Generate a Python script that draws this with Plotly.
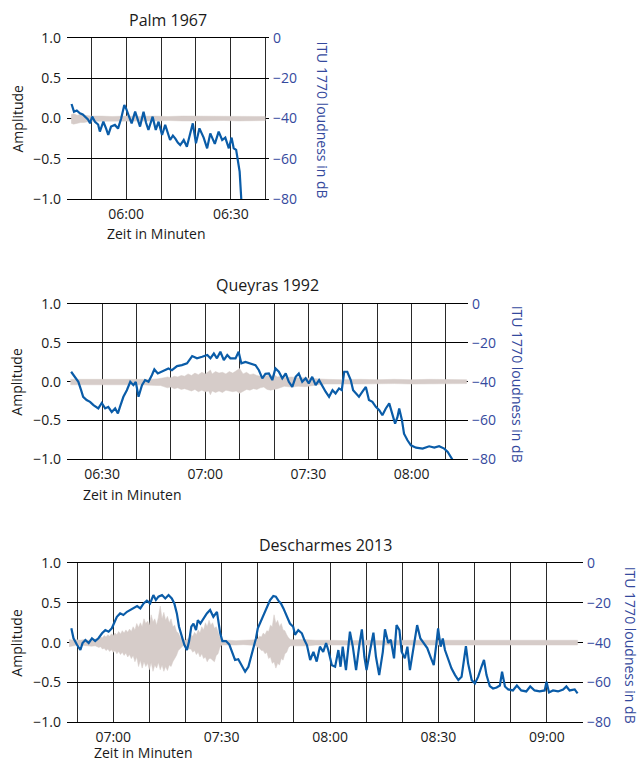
import plotly.graph_objects as go

# ---------------- data ----------------
# time values in minutes after midnight; loudness in dB (ITU 1770); waveform envelope in amplitude

# Panel 1: Palm 1967
p1_title = "Palm 1967"
p1_t = [344.4, 344.8, 345.1, 345.9, 346.8, 347.6, 348.2, 349.1, 349.7, 350.3, 351.1, 352.0, 352.5, 353.5,
        354.3, 354.9, 355.7, 356.8, 357.7, 358.6, 359.5, 360.0, 360.7, 361.6, 362.6, 363.3, 364.0, 365.0,
        365.7, 366.4, 367.6, 368.5, 369.3, 370.3, 371.2, 372.6, 373.4, 374.1, 374.8, 375.5, 376.5, 377.4,
        378.4, 379.1, 380.0, 381.0, 382.2, 383.2, 384.1, 385.4, 386.5, 387.5, 388.4, 389.4, 390.2, 390.8,
        391.5, 392.1, 392.5, 393.0]
p1_db = [-32.8, -35.0, -36.6, -36.0, -37.4, -38.0, -39.1, -40.5, -42.4, -39.0, -41.6, -43.0, -46.5, -41.6,
         -45.0, -48.2, -44.0, -43.2, -45.0, -40.0, -33.3, -35.0, -38.3, -42.4, -36.6, -41.0, -44.0, -36.6,
         -42.0, -45.7, -39.1, -45.7, -41.6, -48.2, -43.2, -50.7, -48.5, -50.0, -52.0, -53.2, -50.7, -54.0,
         -47.4, -42.4, -52.3, -44.9, -49.5, -54.8, -47.4, -52.6, -46.5, -50.7, -49.5, -54.8, -49.5, -54.8,
         -55.6, -61.5, -66.4, -81.0]
p1_wt = [344.3, 345, 346, 347, 348, 349, 350, 353, 356, 360, 364, 368, 372, 376, 380, 384, 388, 392, 396, 399.8]
p1_hi = [0.05, 0.06, 0.04, 0.05, 0.04, 0.035, 0.03, 0.03, 0.025, 0.03, 0.025, 0.03, 0.025, 0.03, 0.03,
         0.025, 0.03, 0.025, 0.03, 0.025]
p1_lo = [0.06, 0.07, 0.06, 0.05, 0.05, 0.04, 0.035, 0.03, 0.03, 0.03, 0.03, 0.03, 0.025, 0.03, 0.03,
         0.03, 0.025, 0.03, 0.03, 0.025]
p1_ticks = [350, 360, 370, 380, 390, 400]
p1_ticktext = ["", "06:00", "", "", "06:30", ""]

# Panel 2: Queyras 1992
p2_title = "Queyras 1992"
p2_t = [381.0, 382.1, 383.1, 383.9, 384.5, 385.5, 386.5, 387.5, 388.9, 389.9, 390.9, 391.8, 392.8, 393.8,
        394.6, 395.2, 396.2, 397.2, 398.2, 399.1, 399.8, 400.6, 401.6, 402.5, 403.5, 404.5, 405.2, 406.2,
        407.4, 408.4, 409.3, 410.3, 411.8, 413.2, 414.7, 416.2, 417.6, 419.1, 420.6, 421.5, 422.5, 423.4,
        424.4, 425.4, 426.4, 427.3, 428.8, 429.7, 430.5, 431.7, 433.1, 434.6, 435.6, 436.6, 437.5, 438.5,
        439.5, 440.4, 441.4, 442.4, 443.4, 444.3, 445.3, 446.3, 447.2, 448.2, 449.2, 450.1, 451.1, 452.1,
        453.1, 454.1, 455.0, 456.0, 457.0, 457.9, 458.9, 459.7, 460.4, 461.3, 462.3, 463.0, 463.8, 464.7,
        465.7, 466.7, 467.6, 468.6, 469.6, 470.6, 471.5, 472.5, 473.5, 474.3, 475.2, 475.9, 476.4, 477.2,
        477.8, 478.8, 479.8, 481.3, 483.2, 485.1, 486.6, 488.0, 489.5, 490.5, 491.5, 492.0]
p2_db = [-34.9, -37.5, -40.1, -44.4, -47.8, -49.5, -50.4, -52.1, -53.8, -51.0, -53.8, -53.0, -55.6, -53.8,
         -56.4, -53.0, -47.8, -44.4, -40.1, -41.8, -40.1, -47.8, -41.8, -39.2, -40.1, -36.6, -33.7, -35.8,
         -34.9, -34.1, -33.2, -34.1, -32.0, -31.5, -30.6, -26.8, -28.0, -27.2, -26.3, -28.0, -25.5, -28.0,
         -24.6, -28.9, -26.3, -28.0, -28.0, -24.6, -30.6, -29.8, -30.6, -31.5, -34.1, -38.3, -36.0, -35.8,
         -39.2, -33.2, -34.9, -38.3, -35.8, -40.1, -42.7, -37.5, -35.8, -40.1, -38.3, -40.9, -37.5, -41.8,
         -39.2, -42.7, -45.2, -47.8, -44.4, -46.1, -43.5, -44.4, -34.9, -34.9, -39.2, -44.4, -46.1, -47.8,
         -45.2, -42.7, -49.5, -50.4, -53.0, -54.7, -57.3, -53.8, -51.2, -55.6, -61.6, -58.2, -53.8, -59.9,
         -66.8, -70.2, -72.8, -74.0, -74.5, -73.3, -74.0, -73.3, -74.5, -76.2, -78.8, -80.5]
p2_wt = [380.8, 383, 386, 389, 392, 395, 398, 401, 404, 406, 407, 408, 409, 410, 411, 412, 413, 414, 415,
         416, 417, 418, 419, 420, 421, 421.5, 422, 423, 424, 425, 426, 427, 428, 429, 430, 431, 432, 433,
         434, 435, 436, 437, 438, 439, 440, 441, 442, 443, 445, 447, 449, 451, 453, 455, 460, 465, 470,
         475, 480, 485, 490, 496]
p2_hi = [0.03, 0.03, 0.025, 0.03, 0.03, 0.025, 0.03, 0.03, 0.03, 0.035, 0.04, 0.05, 0.06, 0.05, 0.07, 0.06,
         0.08, 0.07, 0.1, 0.08, 0.11, 0.09, 0.12, 0.1, 0.13, 0.15, 0.1, 0.13, 0.11, 0.12, 0.1, 0.13, 0.11,
         0.14, 0.17, 0.1, 0.12, 0.09, 0.1, 0.08, 0.07, 0.06, 0.08, 0.07, 0.09, 0.06, 0.07, 0.05, 0.06, 0.05,
         0.05, 0.04, 0.035, 0.03, 0.025, 0.03, 0.025, 0.03, 0.025, 0.03, 0.025, 0.025]
p2_lo = [0.04, 0.045, 0.04, 0.04, 0.045, 0.04, 0.04, 0.04, 0.045, 0.05, 0.05, 0.06, 0.08, 0.07, 0.09, 0.08,
         0.1, 0.09, 0.1, 0.12, 0.1, 0.13, 0.11, 0.13, 0.12, 0.17, 0.12, 0.14, 0.12, 0.14, 0.11, 0.12, 0.13,
         0.12, 0.15, 0.12, 0.1, 0.11, 0.09, 0.1, 0.08, 0.07, 0.1, 0.11, 0.1, 0.09, 0.08, 0.06, 0.07, 0.06,
         0.065, 0.05, 0.04, 0.03, 0.03, 0.03, 0.03, 0.025, 0.03, 0.03, 0.03, 0.025]
p2_ticks = [390, 400, 410, 420, 430, 440, 450, 460, 470, 480, 490]
p2_ticktext = ["06:30", "", "", "07:00", "", "", "07:30", "", "", "08:00", ""]

# Panel 3: Descharmes 2013
p3_title = "Descharmes 2013"
p3_t = [408.4, 409.0, 410.0, 410.9, 411.5, 412.3, 413.2, 414.1, 415.0, 415.9, 416.9, 417.8, 418.7, 419.6,
        420.4, 421.0, 421.9, 422.8, 423.8, 424.7, 425.6, 426.6, 427.5, 428.4, 429.3, 430.2, 431.1, 431.8,
        432.5, 433.5, 434.4, 435.3, 436.2, 436.9, 437.6, 438.2, 439.0, 439.7, 440.4, 441.0, 441.6, 442.2,
        442.9, 443.4, 444.1, 445.0, 445.9, 446.8, 447.7, 448.7, 449.1, 449.6, 450.2, 451.2, 452.1, 452.8,
        453.7, 454.6, 455.6, 456.5, 457.4, 458.2, 458.8, 459.5, 460.0, 460.6, 461.6, 462.5, 463.4, 464.3,
        465.0, 465.7, 466.4, 467.1, 468.0, 468.9, 469.8, 470.3, 471.2, 472.2, 472.9, 473.6, 474.5, 475.4,
        476.3, 477.2, 478.1, 478.9, 479.5, 480.5, 481.4, 482.3, 482.9, 483.5, 484.4, 485.5, 486.3, 487.2,
        488.1, 488.8, 489.5, 490.1, 491.1, 492.0, 492.7, 493.6, 494.6, 495.2, 496.1, 496.8, 497.7, 498.4,
        499.2, 499.8, 500.7, 501.4, 502.1, 503.0, 504.1, 505.0, 506.0, 506.9, 507.8, 508.7, 509.5, 509.9,
        510.6, 511.2, 511.8, 512.7, 513.6, 514.6, 515.5, 516.4, 517.0, 517.6, 518.2, 519.2, 520.1, 521.0,
        521.9, 522.6, 523.3, 524.2, 525.1, 526.1, 527.0, 527.6, 528.4, 529.3, 530.6, 531.7, 532.9, 534.3,
        535.4, 536.6, 538.0, 539.4, 539.9, 540.6, 541.7, 543.1, 544.5, 545.4, 546.3, 547.7, 548.5]
p3_db = [-32.8, -37.8, -41.2, -43.7, -40.2, -38.7, -40.2, -37.8, -39.2, -37.8, -35.3, -33.7, -34.5, -32.8,
         -29.5, -27.0, -25.3, -26.1, -24.5, -23.6, -22.8, -21.6, -22.8, -20.3, -18.9, -20.3, -16.1, -18.6,
         -16.9, -16.1, -17.8, -16.1, -17.8, -20.3, -25.3, -32.0, -37.0, -41.2, -43.7, -39.2, -32.0, -30.4,
         -33.7, -28.7, -30.4, -27.8, -25.3, -23.6, -27.0, -24.5, -29.5, -35.3, -39.2, -39.2, -40.9, -44.6,
         -48.7, -48.3, -51.3, -54.6, -52.1, -47.1, -42.1, -37.8, -32.8, -30.4, -26.1, -22.0, -18.6, -16.6,
         -16.9, -18.9, -20.3, -22.8, -27.0, -30.4, -32.0, -36.1, -33.7, -35.3, -38.7, -41.2, -48.7, -44.6,
         -49.5, -42.0, -44.6, -40.2, -43.7, -51.3, -52.1, -43.7, -52.1, -42.0, -53.8, -34.5, -42.0, -53.8,
         -41.2, -33.3, -47.1, -53.8, -43.7, -35.0, -47.1, -56.3, -44.6, -33.3, -40.2, -38.5, -47.9, -31.2,
         -33.7, -44.6, -47.9, -42.0, -53.8, -43.7, -31.2, -37.9, -40.2, -42.7, -47.1, -51.3, -39.5, -32.8,
         -42.0, -37.9, -43.7, -48.7, -52.9, -56.3, -58.8, -57.1, -50.4, -41.7, -50.4, -58.8, -60.5, -57.1,
         -52.1, -48.7, -56.3, -61.8, -63.0, -62.5, -61.5, -54.6, -62.0, -63.5, -64.0, -61.5, -64.0, -64.5,
         -62.0, -64.0, -64.5, -64.0, -59.6, -65.0, -64.0, -64.5, -63.5, -62.0, -64.0, -63.5, -65.5]
p3_wt = [407.8, 409, 410, 411, 412, 413, 414, 415, 416, 416.5, 417, 417.5, 418, 418.5, 419, 419.5, 420,
         420.5, 421, 421.5, 422, 422.5, 423, 423.5, 424, 424.5, 425, 425.5, 426, 426.5, 427, 427.5, 428,
         428.5, 429, 429.5, 430, 430.5, 431, 431.5, 432, 432.5, 433, 433.5, 434, 434.5, 435, 435.5, 436,
         436.5, 437, 437.5, 438, 438.5, 439, 439.5, 440, 440.5, 441, 441.5, 442, 442.5, 443, 443.5, 444,
         444.5, 445, 445.5, 446, 446.5, 447, 447.5, 448, 448.5, 449, 449.5, 450, 452, 454, 456, 458, 459.5,
         460, 460.5, 461, 461.5, 462, 462.5, 463, 463.5, 464, 464.5, 465, 465.5, 466, 466.5, 467, 467.5,
         468, 468.5, 469, 470, 472, 474, 476, 480, 485, 490, 495, 500, 505, 510, 515, 520, 525, 530, 535,
         540, 545, 548.5]
p3_hi = [0.04, 0.03, 0.035, 0.03, 0.04, 0.03, 0.04, 0.045, 0.05, 0.07, 0.06, 0.09, 0.07, 0.1, 0.08, 0.11,
         0.09, 0.12, 0.1, 0.14, 0.11, 0.15, 0.12, 0.16, 0.13, 0.17, 0.14, 0.2, 0.16, 0.24, 0.19, 0.25, 0.2,
         0.3, 0.24, 0.27, 0.22, 0.35, 0.26, 0.3, 0.22, 0.32, 0.46, 0.3, 0.38, 0.28, 0.33, 0.25, 0.3, 0.2,
         0.22, 0.14, 0.12, 0.07, 0.05, 0.04, 0.03, 0.04, 0.06, 0.1, 0.08, 0.13, 0.1, 0.16, 0.12, 0.2, 0.16,
         0.25, 0.2, 0.28, 0.22, 0.25, 0.18, 0.2, 0.12, 0.07, 0.035, 0.03, 0.025, 0.03, 0.03, 0.035, 0.05,
         0.08, 0.07, 0.12, 0.1, 0.15, 0.14, 0.22, 0.2, 0.35, 0.24, 0.28, 0.2, 0.24, 0.16, 0.15, 0.1, 0.06,
         0.04, 0.035, 0.04, 0.035, 0.03, 0.03, 0.025, 0.03, 0.025, 0.03, 0.03, 0.025, 0.03, 0.025, 0.03,
         0.025, 0.03, 0.025, 0.03, 0.03]
p3_lo = [0.05, 0.04, 0.03, 0.04, 0.035, 0.04, 0.045, 0.04, 0.06, 0.05, 0.08, 0.07, 0.1, 0.08, 0.11, 0.09,
         0.12, 0.1, 0.14, 0.11, 0.15, 0.12, 0.16, 0.13, 0.18, 0.15, 0.2, 0.16, 0.24, 0.18, 0.3, 0.22, 0.32,
         0.24, 0.3, 0.26, 0.34, 0.25, 0.36, 0.28, 0.32, 0.25, 0.34, 0.28, 0.36, 0.3, 0.35, 0.28, 0.3, 0.24,
         0.2, 0.16, 0.1, 0.08, 0.05, 0.03, 0.03, 0.05, 0.08, 0.08, 0.12, 0.1, 0.15, 0.12, 0.18, 0.14, 0.2,
         0.18, 0.24, 0.2, 0.2, 0.22, 0.24, 0.16, 0.14, 0.06, 0.03, 0.03, 0.03, 0.025, 0.03, 0.035, 0.06,
         0.07, 0.1, 0.1, 0.14, 0.12, 0.2, 0.18, 0.26, 0.24, 0.32, 0.26, 0.28, 0.2, 0.22, 0.14, 0.12, 0.06,
         0.04, 0.035, 0.04, 0.04, 0.03, 0.03, 0.03, 0.025, 0.03, 0.03, 0.025, 0.03, 0.03, 0.025, 0.03,
         0.03, 0.025, 0.03, 0.03, 0.03]
p3_ticks = [410, 420, 430, 440, 450, 460, 470, 480, 490, 500, 510, 520, 530, 540]
p3_ticktext = ["", "07:00", "", "", "07:30", "", "", "08:00", "", "", "08:30", "", "", "09:00"]

amp_ticks = [-1.0, -0.5, 0.0, 0.5, 1.0]
amp_ticktext = ["\u22121.0", "\u22120.5", "0.0", "0.5", "1.0"]
db_ticks = [-80, -60, -40, -20, 0]
db_ticktext = ["\u221280", "\u221260", "\u221240", "\u221220", "0"]

x_title = "Zeit in Minuten"
y_title = "Amplitude"
y2_title = "ITU 1770 loudness in dB"

# ---------------- layout (pixel boxes, page coordinates) ----------------
W, H = 639, 761
FONT = "Open Sans"
BLUE_LINE = "#0a5ca8"
BLUE_TEXT = "#34499d"
GRAY_WAVE = "#d6ccc9"
TEXT = "#1a1a1a"


def fx(px):
    return px / W


def fy(py):
    return 1 - py / H


panels = [
    dict(title=p1_title, t=p1_t, db=p1_db, wt=p1_wt, hi=p1_hi, lo=p1_lo, ticks=p1_ticks,
         ticktext=p1_ticktext, xr=[343.1, 400.9], px=(67, 269), py=(38, 199), ty=20, xty=233, rtx=322),
    dict(title=p2_title, t=p2_t, db=p2_db, wt=p2_wt, hi=p2_hi, lo=p2_lo, ticks=p2_ticks,
         ticktext=p2_ticktext, xr=[379.8, 496.4], px=(67, 468), py=(304, 459.3), ty=285, xty=494, rtx=517),
    dict(title=p3_title, t=p3_t, db=p3_db, wt=p3_wt, hi=p3_hi, lo=p3_lo, ticks=p3_ticks,
         ticktext=p3_ticktext, xr=[407.2, 550.0], px=(67, 583), py=(563, 722.3), ty=545, xty=752, rtx=630),
]

fig = go.Figure()
annotations = []
layout_axes = {}

for i, p in enumerate(panels):
    xn = "x" if i == 0 else f"x{i+1}"
    ya = 2 * i + 1
    yb = 2 * i + 2
    yan = "y" if ya == 1 else f"y{ya}"
    ybn = f"y{yb}"

    wx = list(p["wt"]) + list(p["wt"])[::-1]
    wy = list(p["hi"]) + [-v for v in p["lo"]][::-1]
    fig.add_trace(go.Scatter(x=wx, y=wy, mode="lines", fill="toself", fillcolor=GRAY_WAVE,
                             line=dict(color=GRAY_WAVE, width=0.5), xaxis=xn, yaxis=yan,
                             hoverinfo="skip", showlegend=False))
    fig.add_trace(go.Scatter(x=p["t"], y=p["db"], mode="lines",
                             line=dict(color=BLUE_LINE, width=2.2), xaxis=xn, yaxis=ybn,
                             showlegend=False))

    x0, x1 = fx(p["px"][0]), fx(p["px"][1])
    y0, y1 = fy(p["py"][1]), fy(p["py"][0])

    layout_axes["xaxis" if i == 0 else f"xaxis{i+1}"] = dict(
        domain=[x0, x1], range=p["xr"], anchor=yan, tickmode="array", tickvals=p["ticks"],
        ticktext=p["ticktext"], showgrid=True, gridcolor="#2a2a2a", gridwidth=1, zeroline=False,
        showline=True, mirror=True, linecolor="#000000", linewidth=1, ticks="",
        ticklabelstandoff=2,
        tickfont=dict(family=FONT, size=14, color=TEXT), automargin=False, fixedrange=True)
    layout_axes["yaxis" if ya == 1 else f"yaxis{ya}"] = dict(
        domain=[y0, y1], range=[-1, 1], anchor=xn, tickmode="array", tickvals=amp_ticks,
        ticktext=amp_ticktext, showgrid=True, gridcolor="#000000", gridwidth=1, zeroline=False,
        showline=False, ticks="", ticklabelstandoff=5,
        tickfont=dict(family=FONT, size=14, color=TEXT), automargin=False, fixedrange=True)
    layout_axes[f"yaxis{yb}"] = dict(
        domain=[y0, y1], range=[-80, 0], anchor=xn, overlaying=yan, side="right",
        tickmode="array", tickvals=db_ticks, ticktext=db_ticktext, showgrid=False,
        zeroline=False, showline=False, ticks="", ticklabelstandoff=3,
        tickfont=dict(family=FONT, size=14, color=BLUE_TEXT), automargin=False, fixedrange=True)

    cx = fx((p["px"][0] + p["px"][1]) / 2)
    cy = fy((p["py"][0] + p["py"][1]) / 2)
    annotations.append(dict(text=p["title"], x=cx, y=fy(p["ty"]), xref="paper", yref="paper",
                            xanchor="center", yanchor="middle", showarrow=False,
                            font=dict(family=FONT, size=16, color=TEXT)))
    first_lab = [v for v, s in zip(p["ticks"], p["ticktext"]) if s][0]
    annotations.append(dict(text=x_title, x=first_lab, xref=xn, y=fy(p["xty"]), yref="paper",
                            xanchor="left", yanchor="middle", xshift=-21, showarrow=False,
                            font=dict(family=FONT, size=14, color=TEXT)))
    annotations.append(dict(text=y_title, x=fx(17), y=cy, xref="paper", yref="paper",
                            xanchor="center", yanchor="middle", textangle=-90, showarrow=False,
                            font=dict(family=FONT, size=14, color=TEXT)))
    annotations.append(dict(text=y2_title, x=fx(p["rtx"]), y=fy((p["py"][0] + p["py"][1]) / 2 + 2),
                            xref="paper", yref="paper", xanchor="center", yanchor="middle",
                            textangle=90, showarrow=False,
                            font=dict(family=FONT, size=14, color=BLUE_TEXT)))

fig.update_layout(
    width=W, height=H, template="none",
    margin=dict(l=0, r=0, t=0, b=0, autoexpand=False),
    paper_bgcolor="white", plot_bgcolor="white",
    font=dict(family=FONT, size=14, color=TEXT),
    showlegend=False, annotations=annotations, **layout_axes)

# the page's default 8px body margin would push the 639x761 figure out of the window
fig.write_html("out.html", config={"displayModeBar": False},
               post_script="document.body.style.margin='0';document.body.style.overflow='hidden';")
